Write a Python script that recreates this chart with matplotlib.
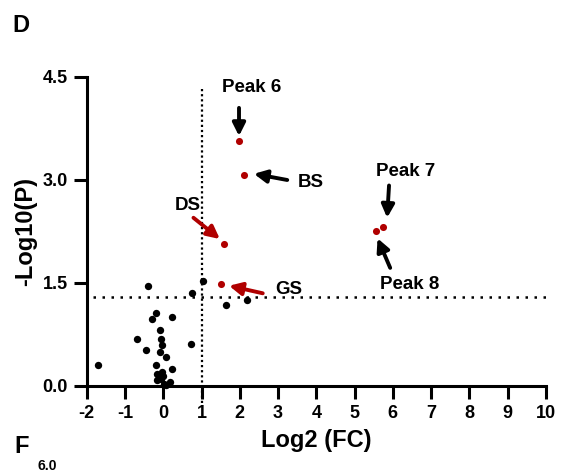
import matplotlib
matplotlib.use("Agg")
import matplotlib.pyplot as plt
import numpy as np

plt.rcParams['font.family'] = ['Liberation Sans', 'DejaVu Sans']
plt.rcParams['font.weight'] = 'bold'

# non-significant / background metabolites
bg_x = [-1.71, -0.39, 1.03, 0.75, 1.65, 2.18, -0.19, -0.30, 0.24, -0.09,
        -0.69, -0.07, -0.02, -0.44, -0.08, 0.72, 0.08, -0.18, 0.24, -0.04,
        -0.15, -0.01, -0.15, -0.06, 0.17, 0.03, 0.08]
bg_y = [0.31, 1.45, 1.53, 1.35, 1.18, 1.25, 1.07, 0.97, 1.01, 0.82,
        0.69, 0.69, 0.59, 0.52, 0.49, 0.61, 0.42, 0.31, 0.25, 0.21,
        0.18, 0.15, 0.08, 0.10, 0.06, 0.03, 0.01]

# highlighted features
hl_names = ['Peak 6', 'BS', 'DS', 'GS', 'Peak 7', 'Peak 8']
hl_x = [1.97, 2.11, 1.58, 1.51, 5.74, 5.55]
hl_y = [3.57, 3.08, 2.07, 1.49, 2.31, 2.26]

fc_cut = 1.0
p_cut = -np.log10(0.05)

xticks = list(range(-2, 11))
yticks = [0.0, 1.5, 3.0, 4.5]

red = '#b00000'

fig = plt.figure(figsize=(5.64, 4.75), dpi=100)
ax = fig.add_axes([0.1537, 0.1874, 0.8143, 0.6505])

ax.scatter(bg_x, bg_y, s=28, c='black', zorder=3, clip_on=False, linewidths=0)
ax.scatter(hl_x, hl_y, s=26, c=red, zorder=3, clip_on=False, linewidths=0)

# threshold lines
ax.plot([-1.83, 10.15], [p_cut, p_cut], color='black', lw=1.8,
        linestyle=(0, (1, 2.6)), clip_on=False, zorder=2)
ax.plot([fc_cut, fc_cut], [-0.25, 4.35], color='black', lw=1.6,
        linestyle=(0, (1, 1.3)), clip_on=False, zorder=2)

# labels + arrows: (text pos, arrow tail, arrow head, colour)
notes = {
    'Peak 6': ((2.32, 4.34), (1.98, 4.05), (1.98, 3.64), 'black'),
    'BS':     ((3.86, 2.97), (3.24, 3.00), (2.37, 3.09), 'black'),
    'DS':     ((0.63, 2.63), (0.79, 2.45), (1.48, 2.14), red),
    'GS':     ((3.28, 1.40), (2.60, 1.35), (1.72, 1.46), red),
    'Peak 7': ((6.34, 3.12), (5.90, 2.92), (5.85, 2.45), 'black'),
    'Peak 8': ((6.44, 1.48), (5.93, 1.72), (5.60, 2.15), 'black'),
}
for name in hl_names:
    tpos, tail, head, col = notes[name]
    ax.text(tpos[0], tpos[1], name, ha='center', va='center',
            fontsize=13.5, fontweight='bold', color='black')
    ax.annotate('', xy=head, xytext=tail,
                arrowprops=dict(arrowstyle='-|>', color=col, lw=2.8,
                                mutation_scale=19, shrinkA=0, shrinkB=0))

ax.set_xlim(-2, 10)
ax.set_ylim(0, 4.5)
ax.set_xticks(xticks)
ax.set_xticklabels([str(t) for t in xticks])
ax.set_yticks(yticks)
ax.set_yticklabels(['%.1f' % t for t in yticks])
for s in ['top', 'right']:
    ax.spines[s].set_visible(False)
for s in ['left', 'bottom']:
    ax.spines[s].set_linewidth(2.2)
ax.tick_params(axis='both', length=9.5, width=2.2, labelsize=13, pad=4)

ax.set_xlabel('Log2 (FC)', fontsize=17, fontweight='bold', labelpad=5)
ax.set_ylabel('-Log10(P)', fontsize=17, fontweight='bold', labelpad=4)

fig.text(0.022, 0.947, 'D', fontsize=17, fontweight='bold', va='center')
fig.text(0.026, 0.061, 'F', fontsize=17, fontweight='bold', va='center')
# top of the next panel's axis, peeking in at the bottom edge
fig.text(0.066, 0.004, '6.0', fontsize=10, fontweight='bold', va='bottom')

fig.savefig('out.png', dpi=100)
